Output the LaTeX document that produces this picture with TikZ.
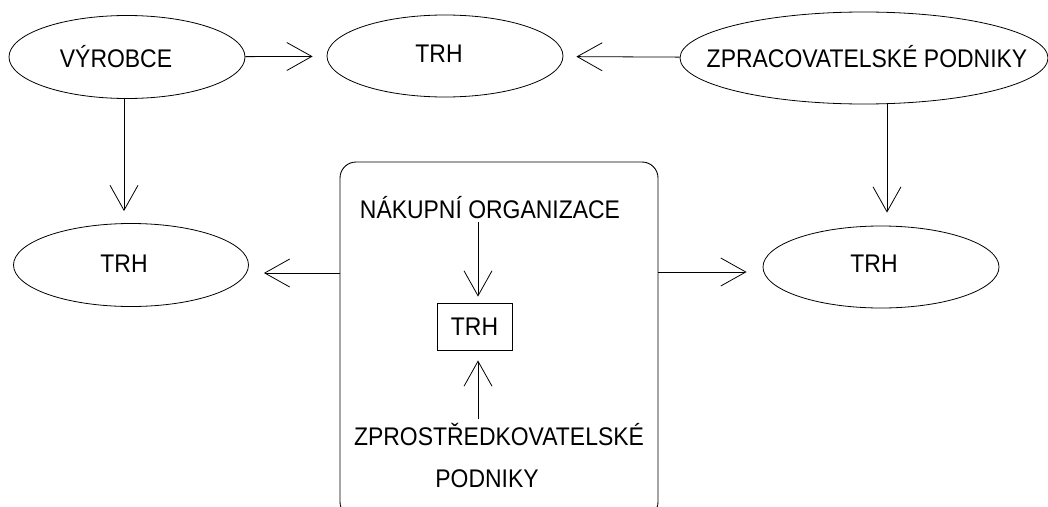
\documentclass[tikz,border=0pt]{standalone}
\usepackage{fontspec}
\setmainfont{Liberation Sans}[FakeStretch=0.9]
\usetikzlibrary{arrows.meta,shapes.geometric}
\begin{document}
\begin{tikzpicture}[x=1pt,y=-1pt,
  ell/.style={draw, ellipse, line width=0.8pt, inner sep=0pt},
  txt/.style={anchor=base, inner sep=3.33pt, font=\fontsize{25.5pt}{30pt}\selectfont},
  arr/.style={-{Straight Barb[length=25pt,width=28pt]}, line width=0.8pt},
  trhbox/.style={draw, rectangle, line width=0.8pt, inner sep=0pt, minimum width=75pt, minimum height=47pt, font=\fontsize{25.5pt}{30pt}\selectfont},
  bigbox/.style={draw, rectangle, rounded corners=16pt, line width=0.9pt, inner sep=0pt, minimum width=318pt, minimum height=356pt}
]
\useasboundingbox (0,0) rectangle (1048,506);
\clip (0,0) rectangle (1048,506);
% ellipses
\node[ell, minimum width=236pt, minimum height=83pt] (v) at (127,57) {};
\node[ell, minimum width=236pt, minimum height=82pt] (t) at (445,56) {};
\node[ell, minimum width=368pt, minimum height=92pt] (z) at (864,58) {};
\node[ell, minimum width=235pt, minimum height=83pt] (lt) at (131,265) {};
\node[ell, minimum width=236pt, minimum height=82pt] (rt) at (881,267) {};
% texts
\node[txt] (vT) at (116,67) {VÝROBCE};
\node[txt] (tT) at (439,62) {TRH};
\node[txt] (zT) at (867,67) {ZPRACOVATELSKÉ PODNIKY};
\node[txt] (ltT) at (124,272) {TRH};
\node[txt] (rtT) at (874,272) {TRH};
% central box
\node[bigbox] (box) at (499,340) {};
\node[txt] (nak) at (490,218) {NÁKUPNÍ ORGANIZACE};
\node[trhbox] (sm) at (474.5,326.5) {TRH};
\node[txt] (zp1) at (499,445) {ZPROSTŘEDKOVATELSKÉ};
\node[txt] (zp2) at (487,487) {PODNIKY};
% connectors
\draw[arr, shorten >=14pt] (v) -- (t);
\draw[arr, shorten >=13pt] (z) -- (t);
\draw[arr, shorten >=12pt] (v.south -| 124,0) -- (lt.north -| 124,0);
\draw[arr, shorten >=13pt] (z.south -| 887,0) -- (rt.north -| 887,0);
\draw[arr, shorten >=15pt] (box.west |- 0,273) -- (lt.east |- 0,273);
\draw[arr, shorten >=16pt] (box.east |- 0,272) -- (rt.west |- 0,272);
\draw[arr, shorten >=6pt] (nak.south -| 478,0) -- (sm.north -| 478,0);
\draw[arr, shorten >=10pt] (zp1.north -| 478,0) -- (sm.south -| 478,0);
\end{tikzpicture}
\end{document}
